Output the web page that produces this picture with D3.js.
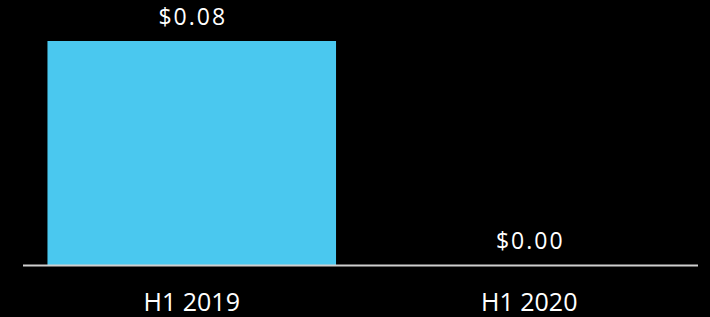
<!DOCTYPE html>
<html>
<head>
<meta charset="utf-8">
<script src="https://cdn.jsdelivr.net/npm/d3@7"></script>
<style>
  body { margin: 0; background: #000; }
  text { font-family: "Open Sans", sans-serif; fill: #fff; }
</style>
</head>
<body>
<div id="chart"></div>
<script>
// H1 earnings per share, one bar per half-year
var WIDTH  = 710;
var HEIGHT = 317;

var CATEGORIES = ['H1 2019', 'H1 2020'];
var VALUES     = [0.08, 0.00];
var LABELS     = ['$0.08', '$0.00'];

var BAR_COLOR  = '#4ac8ef';
var LINE_COLOR = '#cfcfcf';

var svg = d3.select('#chart').append('svg')
            .attr('width', WIDTH)
            .attr('height', HEIGHT)
            .style('background', '#000');

var x = d3.scaleBand()
          .domain(CATEGORIES)
          .range([23, 698])
          .paddingInner(0.145)
          .paddingOuter(0.0725);

var y = d3.scaleLinear()
          .domain([0, 0.08])
          .range([265, 41]);

var data = CATEGORIES.map((c, i) => ({cat: c, value: VALUES[i], label: LABELS[i]}));

svg.selectAll('rect.bar')
   .data(data)
   .enter()
   .append('rect')
   .attr('class', 'bar')
   .attr('x', d => x(d.cat))
   .attr('y', d => y(d.value))
   .attr('width', x.bandwidth())
   .attr('height', d => y(0) - y(d.value))
   .attr('fill', BAR_COLOR);

// baseline
svg.append('line')
   .attr('x1', 23).attr('x2', 698)
   .attr('y1', y(0) + 0.5).attr('y2', y(0) + 0.5)
   .attr('stroke', LINE_COLOR)
   .attr('stroke-width', 2);

// value labels above the bars
svg.selectAll('text.value')
   .data(data)
   .enter()
   .append('text')
   .attr('class', 'value')
   .attr('x', d => x(d.cat) + x.bandwidth() / 2 + 1)
   .attr('y', d => y(d.value) - 16)
   .attr('text-anchor', 'middle')
   .style('font-size', '23px')
   .style('letter-spacing', '2px')
   .text(d => d.label);

// category labels under the axis
svg.selectAll('text.cat')
   .data(data)
   .enter()
   .append('text')
   .attr('class', 'cat')
   .attr('x', d => x(d.cat) + x.bandwidth() / 2)
   .attr('y', 311)
   .attr('text-anchor', 'middle')
   .style('font-size', '25px')
   .text(d => d.cat);
</script>
</body>
</html>
